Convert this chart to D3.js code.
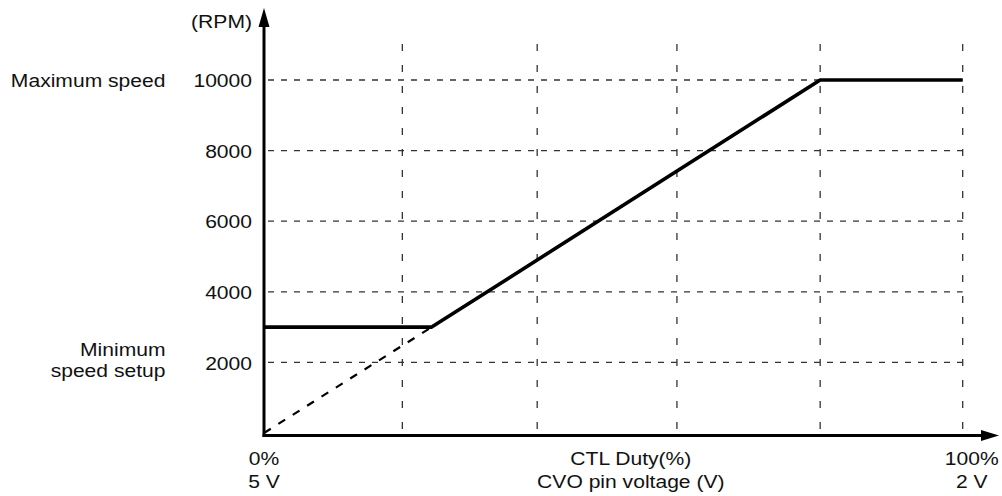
<!DOCTYPE html>
<html>
<head>
<meta charset="utf-8">
<script src="https://cdn.jsdelivr.net/npm/d3@7"></script>
<style>
  html, body { margin: 0; padding: 0; background: #fff; }
  svg text { font-family: "Liberation Sans", Arial, Helvetica, sans-serif; font-size: 18.5px; fill: #111; }
</style>
</head>
<body>
<svg id="chart" width="1002" height="496"></svg>
<script>
// speed curve (duty %, rpm)
var dutyPoints = [24, 79.6, 100];
var speedPoints = [3000, 10000, 10000];
// extrapolated part below minimum speed
var extDuty = [0, 24];
var extSpeed = [0, 3000];
// flat minimum part
var minDuty = [0, 24];
var minSpeed = [3000, 3000];

var gridDuty = [19.8, 39.1, 59.1, 79.6, 100];
var yTicks = [2000, 4000, 6000, 8000, 10000];
var xLabelsTop = ["0%", "CTL Duty(%)", "100%"];
var xLabelsBottom = ["5 V", "CVO pin voltage (V)", "2 V"];
var xLabelPos = [0, 52.5, 101.3];
var leftLabels = [["Maximum speed"], ["Minimum", "speed setup"]];
var leftLabelSpeed = [10000, 2070];

var SX = 1.14; // glyphs in the picture are a bit wide
var svg = d3.select("#chart");
var x = d3.scaleLinear().domain([0, 100]).range([264, 962.7]);
var y = d3.scaleLinear().domain([0, 10000]).range([433, 80]);

function label(px, py, txt, anchor) {
  svg.append("text")
    .attr("transform", "translate(" + px + "," + py + ") scale(" + SX + ",1)")
    .attr("dy", "0.36em")
    .attr("text-anchor", anchor)
    .text(txt);
}

// grid
svg.selectAll("line.vgrid").data(gridDuty).enter().append("line")
  .attr("class", "vgrid")
  .attr("x1", function(d) { return x(d); })
  .attr("x2", function(d) { return x(d); })
  .attr("y1", y(10000) - 36)
  .attr("y2", y(0))
  .attr("stroke", "#333")
  .attr("stroke-width", 1.3)
  .attr("stroke-dasharray", "7,14");

svg.selectAll("line.hgrid").data(yTicks).enter().append("line")
  .attr("class", "hgrid")
  .attr("x1", x(0) + 4)
  .attr("x2", x(100))
  .attr("y1", function(d) { return y(d); })
  .attr("y2", function(d) { return y(d); })
  .attr("stroke", "#333")
  .attr("stroke-width", 1.3)
  .attr("stroke-dasharray", "6,7");

// y tick labels
var yAxis = svg.append("g")
  .attr("transform", "translate(" + x(0) + ",0)")
  .call(d3.axisLeft(y).tickValues(yTicks).tickSize(0).tickPadding(10.5).tickFormat(d3.format("d")));
yAxis.select(".domain").remove();
yAxis.selectAll("text")
  .attr("transform", "scale(" + SX + ",1)")
  .attr("font-family", null)
  .attr("font-size", null)
  .attr("dy", "0.36em");

// data lines
var line = d3.line().x(function(d) { return x(d[0]); }).y(function(d) { return y(d[1]); });

svg.append("path")
  .datum(d3.zip(extDuty, extSpeed))
  .attr("d", line)
  .attr("fill", "none")
  .attr("stroke", "#000")
  .attr("stroke-width", 2.2)
  .attr("stroke-dasharray", "8,9");

svg.append("path")
  .datum(d3.zip(minDuty, minSpeed).concat(d3.zip(dutyPoints, speedPoints)))
  .attr("d", line)
  .attr("fill", "none")
  .attr("stroke", "#000")
  .attr("stroke-width", 3.6)
  .attr("stroke-linejoin", "round");

// axes with arrows
svg.append("line")
  .attr("x1", x(0)).attr("x2", x(0))
  .attr("y1", y(0) + 4).attr("y2", 22)
  .attr("stroke", "#000").attr("stroke-width", 3);
svg.append("path")
  .attr("d", "M" + x(0) + ",8 L" + (x(0) - 5.5) + ",27 L" + (x(0) + 5.5) + ",27 Z")
  .attr("fill", "#000");

svg.append("line")
  .attr("x1", x(0) - 1.5).attr("x2", 986)
  .attr("y1", y(0) + 2.5).attr("y2", y(0) + 2.5)
  .attr("stroke", "#000").attr("stroke-width", 3);
svg.append("path")
  .attr("d", "M999," + (y(0) + 2.5) + " L981," + (y(0) - 3) + " L981," + (y(0) + 8) + " Z")
  .attr("fill", "#000");

// texts
label(252, 21.7, "(RPM)", "end");
xLabelsTop.forEach(function(t, i) { label(x(xLabelPos[i]), 458, t, "middle"); });
xLabelsBottom.forEach(function(t, i) { label(x(xLabelPos[i]), 481.7, t, "middle"); });
label(165.5, y(leftLabelSpeed[0]), leftLabels[0][0], "end");
leftLabels[1].forEach(function(t, i) { label(165.5, y(leftLabelSpeed[1]) + (i - 0.5) * 21.7, t, "end"); });
</script>
</body>
</html>
